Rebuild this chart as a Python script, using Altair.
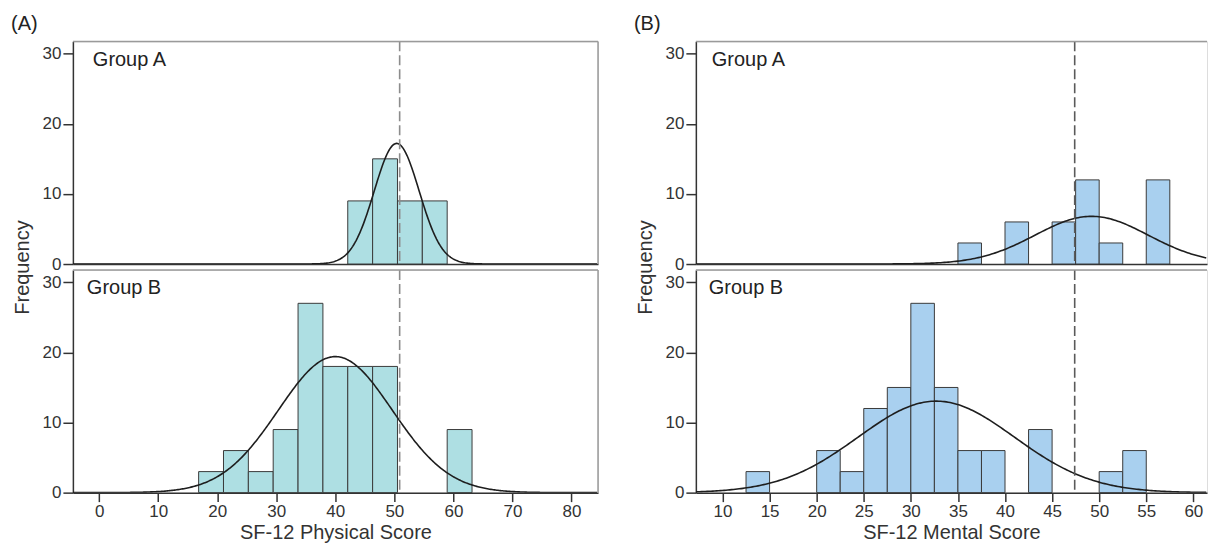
import altair as alt
import pandas as pd

FONT = "Liberation Sans"
INK = "#333333"
FRAME = "#9a9a9a"

# ---------------- Panel (A): SF-12 Physical Score ----------------
phys_lo = [16.85, 21.06, 25.27, 29.48, 33.69, 37.90, 42.11, 46.32, 50.53, 54.74, 58.95]
phys_hi = [21.06, 25.27, 29.48, 33.69, 37.90, 42.11, 46.32, 50.53, 54.74, 58.95, 63.16]
phys_a = [0, 0, 0, 0, 0, 0, 9, 15, 9, 9, 0]
phys_b = [3, 6, 3, 9, 27, 18, 18, 18, 0, 0, 9]
phys_ticks = [0, 10, 20, 30, 40, 50, 60, 70, 80]
phys_domain = [-4.45, 84.5]
phys_ref = 50.9
# fitted normal curve: mean, sd, peak height
phys_curve_a = [50.4, 3.8, 17.2]
phys_curve_b = [40.0, 9.65, 19.4]

# ---------------- Panel (B): SF-12 Mental Score ----------------
ment_lo = [12.5, 15.0, 17.5, 20.0, 22.5, 25.0, 27.5, 30.0, 32.5, 35.0, 37.5, 40.0,
           42.5, 45.0, 47.5, 50.0, 52.5, 55.0]
ment_hi = [15.0, 17.5, 20.0, 22.5, 25.0, 27.5, 30.0, 32.5, 35.0, 37.5, 40.0, 42.5,
           45.0, 47.5, 50.0, 52.5, 55.0, 57.5]
ment_a = [0, 0, 0, 0, 0, 0, 0, 0, 0, 3, 0, 6, 0, 6, 12, 3, 0, 12]
ment_b = [3, 0, 0, 6, 3, 12, 15, 27, 15, 6, 6, 0, 9, 0, 0, 3, 6, 0]
ment_ticks = [10, 15, 20, 25, 30, 35, 40, 45, 50, 55, 60]
ment_domain = [7.17, 61.45]
ment_ref = 47.4
ment_curve_a = [49.2, 6.0, 6.8]
ment_curve_b = [32.7, 8.3, 13.05]

y_ticks = [0, 10, 20, 30]
y_domain = [0, 31.75]

TEAL = "#aedfe3"
BLUE = "#a9d0ef"


def panel(lo, hi, counts, curve, ref, xdom, xticks, color, dash_color,
          group, gx, gy, letter, bottom, xtitle, width, height, right_border):
    xs = alt.Scale(domain=xdom, nice=False, zero=False)
    ys = alt.Scale(domain=y_domain, nice=False, zero=True)
    if bottom:
        ax = alt.Axis(values=xticks, title=xtitle, grid=False, tickSize=9,
                      tickWidth=1.5, tickColor=INK, domainColor=INK, domainWidth=1.5,
                      labelFontSize=17, labelColor=INK, labelPadding=2, labelFont=FONT,
                      titleFontSize=20, titleFontWeight="normal", titleColor=INK,
                      titleFont=FONT, titlePadding=3)
        ay = alt.Axis(values=y_ticks, title="Frequency", grid=False, tickSize=10,
                      tickWidth=1.5, tickColor=INK, domainColor=INK, domainWidth=1.5,
                      labelFontSize=17, labelColor=INK, labelPadding=2, labelFont=FONT,
                      titleFontSize=20, titleFontWeight="normal", titleColor=INK,
                      titleFont=FONT, titleAngle=270, titleX=-50, titleY=-3,
                      titleAlign="center", titleBaseline="middle")
    else:
        ax = alt.Axis(values=xticks, title=None, grid=False, labels=False, ticks=False,
                      domainColor=INK, domainWidth=1.5)
        ay = alt.Axis(values=y_ticks, title=None, grid=False, tickSize=10,
                      tickWidth=1.5, tickColor=INK, domainColor=INK, domainWidth=1.5,
                      labelFontSize=17, labelColor=INK, labelPadding=2, labelFont=FONT)

    df = pd.DataFrame({"lo": lo, "hi": hi, "c": counts})
    df = df[df["c"] > 0]

    bars = alt.Chart(df).mark_rect(color=color, stroke="#3a3a3a", strokeWidth=1).encode(
        x=alt.X("lo:Q", scale=xs, axis=ax),
        x2="hi:Q",
        y=alt.Y("c:Q", scale=ys, axis=ay),
        y2=alt.datum(0),
    )

    mu, sd, peak = curve
    line = alt.Chart(alt.sequence(xdom[0], xdom[1] + 0.01, 0.2, as_="x")).transform_calculate(
        f=f"{peak} * exp(-pow(datum.x - {mu}, 2) / (2 * {sd} * {sd}))"
    ).mark_line(color="#1e1e1e", strokeWidth=1.6, clip=True).encode(
        x=alt.X("x:Q", scale=xs, axis=ax),
        y=alt.Y("f:Q", scale=ys, axis=ay),
    )

    rule = alt.Chart(pd.DataFrame({"r": [ref]})).mark_rule(
        color=dash_color, strokeWidth=1.6, strokeDash=[10, 4]
    ).encode(x=alt.X("r:Q", scale=xs, axis=ax))

    one = pd.DataFrame({"k": [0]})
    top_border = alt.Chart(one).mark_rule(color=FRAME, strokeWidth=1.5).encode(
        x=alt.value(0), x2=alt.value(width), y=alt.value(0)
    )

    gtext = alt.Chart(pd.DataFrame({"t": [group]})).mark_text(
        align="left", baseline="middle", fontSize=20, font=FONT, color="#222222"
    ).encode(x=alt.value(gx), y=alt.value(gy), text="t:N")

    layers = [bars, line, rule, top_border, gtext]
    if right_border:
        layers.append(alt.Chart(one).mark_rule(color=FRAME, strokeWidth=1.5).encode(
            x=alt.value(width), y=alt.value(0), y2=alt.value(height)
        ))
    if letter:
        ltext = alt.Chart(pd.DataFrame({"t": [letter]})).mark_text(
            align="left", baseline="middle", fontSize=20, font=FONT, color="#222222"
        ).encode(x=alt.value(-62), y=alt.value(-17), text="t:N")
        layers.append(ltext)
    return alt.layer(*layers).properties(width=width, height=height)


LW, RW, H = 526, 512, 223

panels = [
    panel(phys_lo, phys_hi, phys_a, phys_curve_a, phys_ref, phys_domain, phys_ticks,
          TEAL, "#8c8c8c", "Group A", 20, 19, "(A)", False, None, LW, H, True),
    panel(ment_lo, ment_hi, ment_a, ment_curve_a, ment_ref, ment_domain, ment_ticks,
          BLUE, "#5a5a5a", "Group A", 16, 19, "(B)", False, None, RW, H, False),
    panel(phys_lo, phys_hi, phys_b, phys_curve_b, phys_ref, phys_domain, phys_ticks,
          TEAL, "#8c8c8c", "Group B", 14, 18, None, True, "SF-12 Physical Score", LW, H, True),
    panel(ment_lo, ment_hi, ment_b, ment_curve_b, ment_ref, ment_domain, ment_ticks,
          BLUE, "#5a5a5a", "Group B", 13, 18, None, True, "SF-12 Mental Score", RW, H, False),
]

chart = alt.concat(
    *panels, columns=2, bounds="flush",
    spacing=alt.RowColnumber(row=6, column=98),
).properties(
    padding={"left": 2, "top": 5, "right": 0, "bottom": 0}
).configure_view(stroke=None).configure(font=FONT)

chart.save("out.html", embed_options={"renderer": "svg", "actions": False})
